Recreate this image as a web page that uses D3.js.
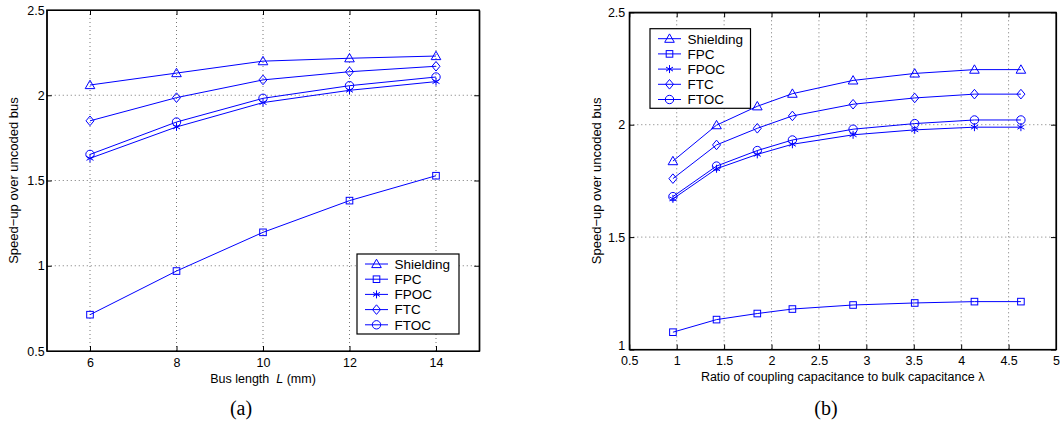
<!DOCTYPE html>
<html>
<head>
<meta charset="utf-8">
<script src="https://cdn.jsdelivr.net/npm/d3@7"></script>
<style>
  html, body { margin: 0; padding: 0; background: #fff; }
  svg { display: block; font-family: "Liberation Sans", Arial, sans-serif; }
</style>
</head>
<body>
<svg id="chart" width="1060" height="421"></svg>
<script>
// panel (a): speed-up vs bus length
const busLength = [6, 8, 10, 12, 14];
const lenShielding = [2.06, 2.13, 2.20, 2.217, 2.23];
const lenFPC = [0.713, 0.969, 1.196, 1.382, 1.528];
const lenFPOC = [1.63, 1.814, 1.957, 2.029, 2.08];
const lenFTC = [1.85, 1.986, 2.09, 2.138, 2.17];
const lenFTOC = [1.653, 1.843, 1.982, 2.056, 2.107];

// panel (b): speed-up vs coupling ratio lambda
const lambda = [0.96, 1.42, 1.85, 2.22, 2.86, 3.51, 4.14, 4.63];
const lamShielding = [1.838, 1.998, 2.082, 2.138, 2.197, 2.228, 2.245, 2.245];
const lamFPC = [1.077, 1.133, 1.160, 1.180, 1.198, 1.207, 1.213, 1.213];
const lamFPOC = [1.670, 1.804, 1.868, 1.913, 1.955, 1.977, 1.989, 1.989];
const lamFTC = [1.760, 1.910, 1.984, 2.039, 2.091, 2.119, 2.136, 2.136];
const lamFTOC = [1.680, 1.816, 1.885, 1.932, 1.980, 2.005, 2.021, 2.021];

const seriesNames = ['Shielding', 'FPC', 'FPOC', 'FTC', 'FTOC'];
const seriesMarkers = ['triangle', 'square', 'star', 'diamond', 'circle'];

const lenTicksX = [6, 8, 10, 12, 14];
const lenTicksY = [0.5, 1, 1.5, 2, 2.5];
const lamTicksX = [0.5, 1, 1.5, 2, 2.5, 3, 3.5, 4, 4.5, 5];
const lamTicksY = [1, 1.5, 2, 2.5];

const blue = '#0000ff';
const svg = d3.select('#chart');

const drawMarker = (g, type, x, y) => {
  const m = g.append('g').attr('transform', `translate(${x},${y})`)
    .attr('fill', 'none').attr('stroke', blue).attr('stroke-width', 1);
  if (type === 'triangle') {
    m.append('path').attr('d', 'M0,-4.8 L4.8,3.6 L-4.8,3.6 Z');
  } else if (type === 'square') {
    m.append('rect').attr('x', -3.3).attr('y', -3.3).attr('width', 6.6).attr('height', 6.6);
  } else if (type === 'diamond') {
    m.append('path').attr('d', 'M0,-4.8 L4,0 L0,4.8 L-4,0 Z');
  } else if (type === 'circle') {
    m.append('circle').attr('r', 4.2);
  } else if (type === 'star') {
    m.append('path').attr('d', 'M0,-4 L0,4 M-3.5,-2 L3.5,2 M-3.5,2 L3.5,-2');
  }
};

const drawPanel = (cfg) => {
  const x = d3.scaleLinear().domain(cfg.xDomain).range([cfg.left, cfg.right]);
  const y = d3.scaleLinear().domain(cfg.yDomain).range([cfg.bottom, cfg.top]);
  const w = cfg.right - cfg.left;
  const h = cfg.bottom - cfg.top;
  const g = svg.append('g');

  // dotted grid
  const innerX = cfg.xTicks.filter(t => t > cfg.xDomain[0] && t < cfg.xDomain[1]);
  const innerY = cfg.yTicks.filter(t => t > cfg.yDomain[0] && t < cfg.yDomain[1]);
  g.append('g').selectAll('line').data(innerX).enter().append('line')
    .attr('x1', d => x(d)).attr('x2', d => x(d))
    .attr('y1', cfg.top).attr('y2', cfg.bottom)
    .attr('stroke', '#777').attr('stroke-dasharray', '1,3');
  g.append('g').selectAll('line').data(innerY).enter().append('line')
    .attr('x1', cfg.left).attr('x2', cfg.right)
    .attr('y1', d => y(d)).attr('y2', d => y(d))
    .attr('stroke', '#777').attr('stroke-dasharray', '1,3');

  // axes with inward ticks on all four sides
  const fmt = d => String(d);
  const bottomAxis = g.append('g').attr('transform', `translate(0,${cfg.bottom})`)
    .call(d3.axisBottom(x).tickValues(cfg.xTicks).tickSize(-5).tickSizeOuter(0).tickPadding(7).tickFormat(fmt));
  const leftAxis = g.append('g').attr('transform', `translate(${cfg.left},0)`)
    .call(d3.axisLeft(y).tickValues(cfg.yTicks).tickSize(-5).tickSizeOuter(0).tickPadding(cfg.yPad).tickFormat(fmt));
  g.append('g').attr('transform', `translate(0,${cfg.top})`)
    .call(d3.axisTop(x).tickValues(cfg.xTicks).tickSize(-5).tickSizeOuter(0).tickFormat(''));
  g.append('g').attr('transform', `translate(${cfg.right},0)`)
    .call(d3.axisRight(y).tickValues(cfg.yTicks).tickSize(-5).tickSizeOuter(0).tickFormat(''));
  g.selectAll('.domain').attr('stroke', '#000').attr('stroke-width', 1.2);
  g.selectAll('.tick line').attr('stroke', '#000');
  [bottomAxis, leftAxis].forEach(a => a.selectAll('text')
    .attr('font-family', '"Liberation Sans", Arial, sans-serif')
    .attr('font-size', 12.5).attr('fill', '#000'));
  // lowest y label sits just above the corner x label (as in the original)
  if (cfg.liftLowest) {
    leftAxis.selectAll('.tick text').filter(d => d === cfg.yDomain[0]).attr('dy', '0.02em');
  }

  g.append('rect').attr('x', cfg.left).attr('y', cfg.top).attr('width', w).attr('height', h)
    .attr('fill', 'none').attr('stroke', '#000').attr('stroke-width', 1.2);

  // series
  const line = d3.line().x(d => x(d[0])).y(d => y(d[1]));
  cfg.series.forEach((vals, i) => {
    const pts = cfg.xs.map((xv, j) => [xv, vals[j]]);
    g.append('path').datum(pts).attr('d', line)
      .attr('fill', 'none').attr('stroke', blue).attr('stroke-width', 1);
    pts.forEach(p => drawMarker(g, seriesMarkers[i], x(p[0]), y(p[1])));
  });

  // legend
  const lg = cfg.legend;
  g.append('rect').attr('x', lg.x).attr('y', lg.y).attr('width', lg.w).attr('height', lg.h)
    .attr('fill', '#fff').attr('stroke', '#000').attr('stroke-width', 1.2);
  seriesNames.forEach((name, i) => {
    const ry = lg.y + 10 + i * 15.2;
    g.append('line').attr('x1', lg.x + 8).attr('x2', lg.x + 31)
      .attr('y1', ry).attr('y2', ry).attr('stroke', blue).attr('stroke-width', 1);
    drawMarker(g, seriesMarkers[i], lg.x + 19.5, ry);
    g.append('text').attr('x', lg.x + 37.5).attr('y', ry + 4.8)
      .attr('font-size', 13.5).attr('fill', '#000').text(name);
  });

  // axis titles
  const xl = g.append('text').attr('x', (cfg.left + cfg.right) / 2).attr('y', cfg.bottom + 31.5)
    .attr('text-anchor', 'middle').attr('font-size', 12.5).attr('fill', '#000');
  cfg.xLabel(xl);
  g.append('text')
    .attr('transform', `translate(${cfg.yLabelX},${(cfg.top + cfg.bottom) / 2}) rotate(-90)`)
    .attr('text-anchor', 'middle').attr('dy', '0.35em').attr('font-size', 13).attr('fill', '#000')
    .text('Speed\u2212up over uncoded bus');

  g.append('text').attr('x', cfg.captionX).attr('y', 415)
    .attr('text-anchor', 'middle').attr('font-family', '"Liberation Serif", "Times New Roman", serif')
    .attr('font-size', 20).attr('fill', '#000').text(cfg.caption);
};

drawPanel({
  left: 46.75, right: 479.25, top: 10, bottom: 351,
  xDomain: [5, 15], yDomain: [0.5, 2.5],
  xTicks: lenTicksX, yTicks: lenTicksY, yPad: 2,
  xs: busLength,
  series: [lenShielding, lenFPC, lenFPOC, lenFTC, lenFTOC],
  legend: { x: 357, y: 254, w: 102, h: 80 },
  xLabel: t => {
    t.append('tspan').text('Bus length\u00a0\u00a0');
    t.append('tspan').attr('font-style', 'italic').text('L');
    t.append('tspan').text('\u00a0(mm)');
  },
  yLabelX: 13.5,
  caption: '(a)', captionX: 241
});

drawPanel({
  left: 629.3, right: 1056, top: 12.3, bottom: 349.5,
  xDomain: [0.5, 5], yDomain: [1, 2.5],
  xTicks: lamTicksX, yTicks: lamTicksY, yPad: 4,
  liftLowest: true,
  xs: lambda,
  series: [lamShielding, lamFPC, lamFPOC, lamFTC, lamFTOC],
  legend: { x: 650, y: 28.7, w: 100.5, h: 79.6 },
  xLabel: t => t.text('Ratio of coupling capacitance to bulk capacitance \u03bb'),
  yLabelX: 596,
  caption: '(b)', captionX: 826
});
</script>
</body>
</html>
